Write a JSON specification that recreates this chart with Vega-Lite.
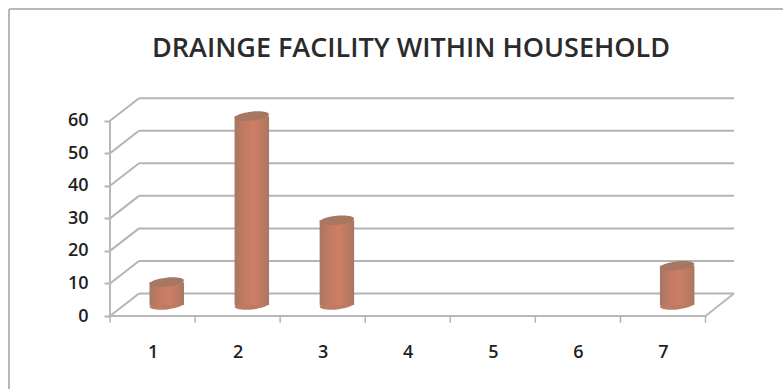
{
  "$schema": "https://vega.github.io/schema/vega-lite/v6.json",
  "width": 624,
  "height": 218,
  "autosize": "none",
  "padding": {"left": 110, "top": 98, "right": 49, "bottom": 73},
  "background": "#ffffff",
  "view": {"stroke": null},
  "title": {
    "text": "DRAINGE FACILITY WITHIN HOUSEHOLD",
    "font": "Open Sans",
    "fontSize": 27,
    "fontWeight": 600,
    "color": "#2b2b2b",
    "anchor": "middle",
    "frame": "group",
    "dx": -11,
    "offset": 0,
    "dy": 55
  },
  "datasets": {
    "drainage": [
      {"category": 1, "value": 7},
      {"category": 2, "value": 58},
      {"category": 3, "value": 26},
      {"category": 4, "value": 0},
      {"category": 5, "value": 0},
      {"category": 6, "value": 0},
      {"category": 7, "value": 12}
    ],
    "levels": [
      {"level": 0}, {"level": 10}, {"level": 20}, {"level": 30},
      {"level": 40}, {"level": 50}, {"level": 60}
    ],
    "edges": [
      {"edge": 0.5}, {"edge": 1.5}, {"edge": 2.5}, {"edge": 3.5},
      {"edge": 4.5}, {"edge": 5.5}, {"edge": 6.5}, {"edge": 7.5}
    ],
    "outline": [
      {"xa": -0.687, "xb": -0.687, "ya": -22.4, "yb": 94.3},
      {"xa": -0.687, "xb": 8.42, "ya": 94.3, "yb": 94.3},
      {"xa": 0.5, "xb": 0.5, "ya": 0, "yb": 60},
      {"xa": 0.5, "xb": 7.5, "ya": 0, "yb": 0},
      {"xa": 7.5, "xb": 7.835, "ya": 0, "yb": 6.91}
    ]
  },
  "layer": [
    {
      "data": {"name": "levels"},
      "transform": [
        {"calculate": "datum.level + 6.91", "as": "backLevel"},
        {"calculate": "0.841", "as": "wallStart"},
        {"calculate": "7.835", "as": "wallEnd"}
      ],
      "mark": {"type": "rule", "color": "#b4b4b4", "strokeWidth": 2},
      "encoding": {
        "x": {
          "field": "wallStart",
          "type": "quantitative",
          "scale": {"domain": [0.5, 7.835], "nice": false, "zero": false, "padding": 0},
          "axis": {
            "values": [1, 2, 3, 4, 5, 6, 7],
            "format": "d",
            "title": null,
            "domain": false,
            "grid": false,
            "ticks": false,
            "labelPadding": 27,
            "labelFont": "Open Sans",
            "labelFontSize": 18,
            "labelFontWeight": 600,
            "labelColor": "#1f1f1f"
          }
        },
        "x2": {"field": "wallEnd"},
        "y": {
          "field": "backLevel",
          "type": "quantitative",
          "scale": {"domain": [0, 66.97], "nice": false},
          "axis": {
            "values": [0, 10, 20, 30, 40, 50, 60],
            "tickCount": 7,
            "title": null,
            "domain": false,
            "grid": false,
            "tickColor": "#b4b4b4",
            "tickWidth": 2,
            "tickSize": 6,
            "labelPadding": 16,
            "labelFont": "Open Sans",
            "labelFontSize": 18,
            "labelFontWeight": 600,
            "labelColor": "#1f1f1f"
          }
        }
      }
    },
    {
      "data": {"name": "levels"},
      "transform": [
        {"calculate": "datum.level + 6.91", "as": "backLevel"},
        {"calculate": "0.5", "as": "sideStart"},
        {"calculate": "0.841", "as": "sideEnd"}
      ],
      "mark": {"type": "rule", "color": "#b4b4b4", "strokeWidth": 2},
      "encoding": {
        "x": {"field": "sideStart", "type": "quantitative"},
        "x2": {"field": "sideEnd"},
        "y": {"field": "level", "type": "quantitative"},
        "y2": {"field": "backLevel"}
      }
    },
    {
      "data": {"name": "outline"},
      "mark": {"type": "rule", "color": "#b8b8b8", "strokeWidth": 2},
      "encoding": {
        "x": {"field": "xa", "type": "quantitative"},
        "x2": {"field": "xb"},
        "y": {"field": "ya", "type": "quantitative"},
        "y2": {"field": "yb"}
      }
    },
    {
      "data": {"name": "edges"},
      "transform": [
        {"calculate": "0", "as": "tickStart"},
        {"calculate": "-2.1", "as": "tickEnd"}
      ],
      "mark": {"type": "rule", "color": "#b4b4b4", "strokeWidth": 1.5},
      "encoding": {
        "x": {"field": "edge", "type": "quantitative"},
        "y": {"field": "tickStart", "type": "quantitative"},
        "y2": {"field": "tickEnd"}
      }
    },
    {
      "data": {"name": "drainage"},
      "transform": [
        {"filter": "datum.value > 0"},
        {"calculate": "datum.category + 0.167", "as": "centre"},
        {"calculate": "3.4", "as": "base"}
      ],
      "mark": {
        "type": "point",
        "filled": true,
        "opacity": 1,
        "size": 1190,
        "shape": "M-0.995,0.105 A1,0.26,-6,0,0,0.995,-0.105 A1,0.26,-6,0,0,-0.995,0.105 Z",
        "color": "#bd7b63"
      },
      "encoding": {
        "x": {"field": "centre", "type": "quantitative"},
        "y": {"field": "base", "type": "quantitative"}
      }
    },
    {
      "data": {"name": "drainage"},
      "transform": [
        {"filter": "datum.value > 0"},
        {"calculate": "datum.category + 0.167", "as": "centre"},
        {"calculate": "3.4", "as": "base"},
        {"calculate": "datum.value + 3.4", "as": "top"}
      ],
      "mark": {
        "type": "bar",
        "orient": "vertical",
        "width": 34.5,
        "color": {
          "gradient": "linear",
          "x1": 0, "x2": 1, "y1": 0, "y2": 0,
          "stops": [
            {"offset": 0, "color": "#a67765"},
            {"offset": 0.25, "color": "#c07a61"},
            {"offset": 0.55, "color": "#cc7f65"},
            {"offset": 0.85, "color": "#b87a62"},
            {"offset": 1, "color": "#a67765"}
          ]
        }
      },
      "encoding": {
        "x": {"field": "centre", "type": "quantitative"},
        "y": {"field": "base", "type": "quantitative"},
        "y2": {"field": "top"}
      }
    },
    {
      "data": {"name": "drainage"},
      "transform": [
        {"filter": "datum.value > 0"},
        {"calculate": "datum.category + 0.167", "as": "centre"},
        {"calculate": "datum.value + 3.4", "as": "top"}
      ],
      "mark": {
        "type": "point",
        "filled": true,
        "opacity": 1,
        "size": 1190,
        "shape": "M-0.995,0.105 A1,0.26,-6,0,0,0.995,-0.105 A1,0.26,-6,0,0,-0.995,0.105 Z",
        "color": "#a87762"
      },
      "encoding": {
        "x": {"field": "centre", "type": "quantitative"},
        "y": {"field": "top", "type": "quantitative"}
      }
    }
  ]
}
